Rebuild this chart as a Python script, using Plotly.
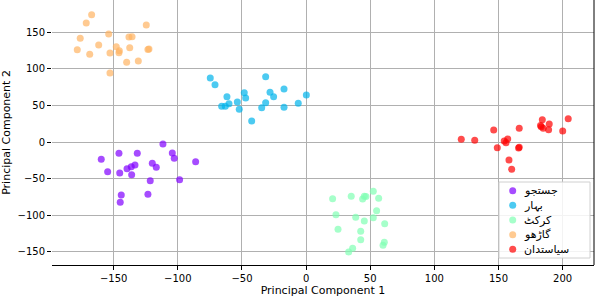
import plotly.graph_objects as go

labels = ["جستجو", "بہار", "کرکٹ", "گاڑھو", "سیاستدان"]
colors = ["#8000ff", "#00b4eb", "#80ffb4", "#ffb462", "#ff0000"]

purple_x = [-111.6, -159.7, -145.9, -131.6, -104.3, -102.8, -86.1, -154.7, -145.3, -139.6,
            -136.3, -133.4, -136.0, -119.9, -116.8, -121.5, -98.6, -144.1, -144.9, -123.3]
purple_y = [-2.7, -23.7, -15.5, -15.5, -15.0, -22.3, -26.9, -40.6, -42.4, -36.5,
            -33.8, -31.5, -44.7, -29.1, -34.6, -52.9, -51.6, -72.5, -82.5, -71.5]

blue_x = [-74.7, -71.0, -31.5, -61.7, -48.2, -47.1, -28.1, -25.3, -17.2, 0.2,
          -65.8, -63.0, -60.1, -53.6, -52.1, -31.5, -34.6, -17.2, -6.1, -42.4]
blue_y = [87.5, 78.4, 89.3, 61.9, 67.4, 60.2, 68.0, 61.9, 72.5, 64.3,
          48.8, 48.8, 52.4, 54.7, 44.7, 53.7, 46.9, 47.4, 52.9, 28.7]

green_x = [52.4, 20.7, 35.2, 45.4, 44.1, 56.6, 55.0, 23.3, 38.7, 45.4,
           52.4, 61.3, 24.9, 42.6, 42.6, 61.0, 60.0, 36.3, 33.2, 46.7]
green_y = [-67.4, -77.5, -74.3, -74.3, -77.9, -77.0, -93.9, -99.4, -103.0, -108.0,
           -103.5, -111.7, -119.4, -122.1, -133.6, -137.2, -141.3, -145.4, -150.4, -74.5]

orange_x = [-167.2, -171.4, -176.1, -178.4, -168.7, -161.7, -153.9, -152.9, -152.9, -148.0,
            -145.6, -145.9, -137.5, -138.1, -135.7, -139.9, -130.8, -124.6, -122.5, -123.3]
orange_y = [174.1, 162.7, 141.8, 126.2, 119.9, 132.6, 147.7, 121.7, 94.4, 130.3,
            124.8, 122.1, 128.9, 143.6, 144.0, 109.0, 110.8, 160.0, 127.2, 126.5]

red_x = [204.4, 184.2, 189.6, 183.4, 184.9, 189.1, 200.1, 166.2, 146.3, 121.0,
         131.5, 149.1, 154.5, 157.2, 155.9, 166.2, 165.7, 158.2, 160.3, 182.8]
red_y = [31.9, 30.5, 24.6, 20.9, 18.7, 16.8, 15.0, 18.7, 16.4, 3.7,
         2.3, -7.8, 1.4, 4.1, -1.0, -7.2, -8.2, -24.6, -37.3, 22.6]

series = [(purple_x, purple_y), (blue_x, blue_y), (green_x, green_y),
          (orange_x, orange_y), (red_x, red_y)]

ticks = [-150, -100, -50, 0, 50, 100, 150, 200]
yticks = [-150, -100, -50, 0, 50, 100, 150]

W, H = 596, 298
ML, MR, MT, MB = 52, 2, 0, 33
PW, PH = W - ML - MR, H - MT - MB

def px2paper(px, py):
    return (px - ML) / PW, (H - MB - py) / PH

fig = go.Figure()
for (xs, ys), name, c in zip(series, labels, colors):
    fig.add_trace(go.Scatter(x=xs, y=ys, mode="markers", name=name, showlegend=False,
                             marker=dict(color=c, size=7, opacity=0.7, line=dict(width=0))))

# right spine
fig.add_shape(type="line", xref="paper", yref="paper", x0=1, x1=1, y0=0, y1=1,
              line=dict(color="black", width=1))

# custom legend (compact, like the reference)
bx0, by0 = px2paper(499, 182)
bx1, by1 = px2paper(590, 258)
fig.add_shape(type="rect", xref="paper", yref="paper", x0=bx0, x1=bx1, y0=by1, y1=by0,
              line=dict(color="#d0d0d0", width=1), fillcolor="rgba(255,255,255,0.85)")
row0, step = 190.7, 14.65
r = 3.5
for i, (name, c) in enumerate(zip(labels, colors)):
    cy = row0 + i * step
    x0p, y0p = px2paper(512.7 - r, cy + r)
    x1p, y1p = px2paper(512.7 + r, cy - r)
    fig.add_shape(type="circle", xref="paper", yref="paper", x0=x0p, x1=x1p, y0=y0p, y1=y1p,
                  line=dict(width=0), fillcolor=c, opacity=0.7)
    tx, ty = px2paper(522, cy)
    fig.add_annotation(x=tx, y=ty, xref="paper", yref="paper", text=name, showarrow=False,
                       xanchor="left", yanchor="middle", font=dict(size=11, color="black"))

fig.update_layout(
    width=W, height=H,
    margin=dict(l=ML, r=MR, t=MT, b=MB),
    paper_bgcolor="white", plot_bgcolor="white",
    font=dict(family="DejaVu Sans", size=10, color="black"),
    showlegend=False,
    xaxis=dict(range=[-198.1, 224.5], tickvals=ticks, showgrid=True, gridcolor="#b0b0b0",
               gridwidth=1, zeroline=False, showline=True, mirror=True, linecolor="black",
               linewidth=1, ticks="outside", ticklen=4, tickcolor="black", automargin=False,
               title=dict(text="Principal Component 1", font=dict(size=11), standoff=2)),
    yaxis=dict(range=[-168.2, 194.2], tickvals=yticks, showgrid=True, gridcolor="#b0b0b0",
               gridwidth=1, zeroline=False, showline=False, ticks="outside", ticklen=4,
               tickcolor="black", automargin=False,
               title=dict(text="Principal Component 2", font=dict(size=11), standoff=10)),
)

fig.write_html("out.html", config={"displayModeBar": False},
               post_script="document.body.style.margin='0px';")
